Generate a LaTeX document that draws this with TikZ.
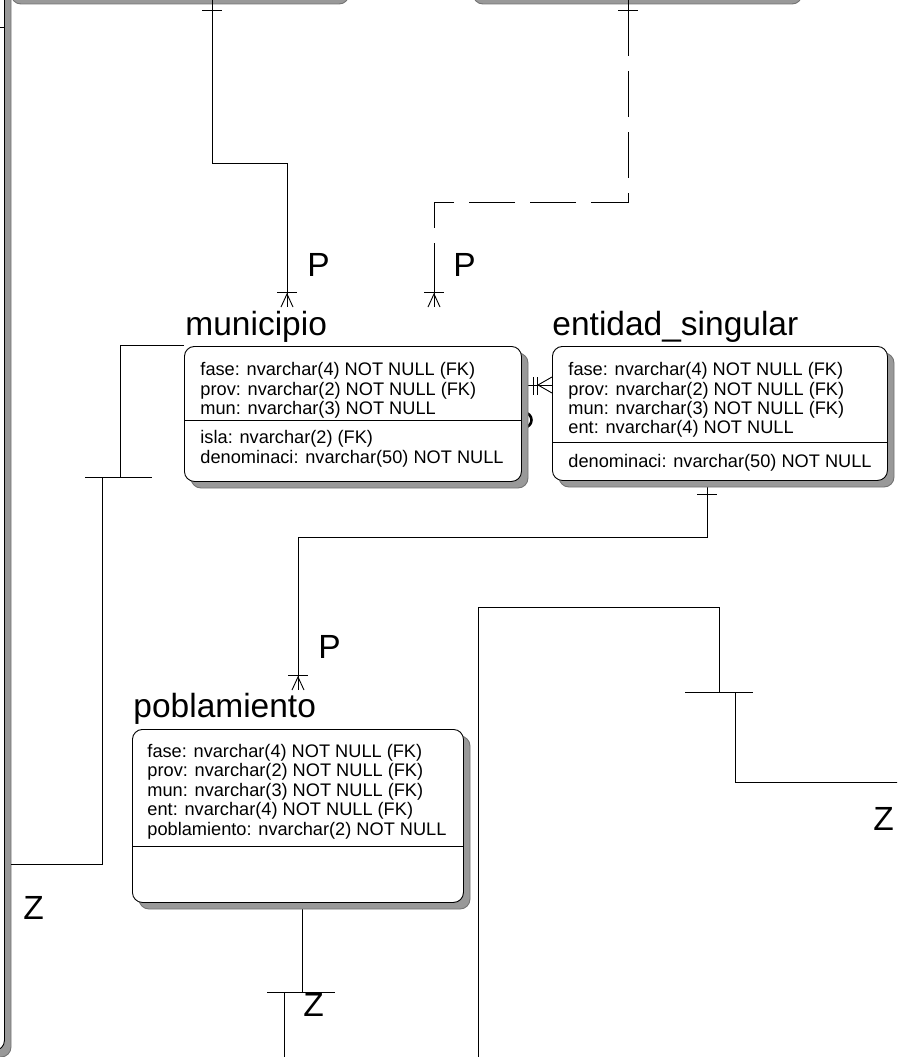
\documentclass[tikz,border=0pt]{standalone}
\usepackage{fontspec}
\setmainfont{Liberation Sans}
\newcommand\attrfont{\fontsize{18.2}{19.5}\selectfont}
\newcommand\titlefont{\fontsize{33.5}{36}\selectfont}
\tikzset{
  table/.style={draw, fill=white, rounded corners=10pt, inner sep=0pt, anchor=north west},
  tshadow/.style={fill=black!40, draw=black!55, rounded corners=10pt},
  attr/.style={font=\attrfont, anchor=base west, inner sep=0pt},
  title/.style={font=\titlefont, anchor=base west, inner sep=0pt},
  card/.style={font=\titlefont, anchor=base west, inner sep=0pt},
  rel/.style={line width=0.9pt},
}
\begin{document}
\begin{tikzpicture}[x=1pt, y=-1pt, line width=0.9pt]
  \useasboundingbox (0,0) rectangle (897,1057);
  \clip (0,0) rectangle (897,1057);
  \def\crow#1#2{\draw[rel] (#1-10,#2-15) -- (#1+10,#2-15);
    \draw[rel] (#1-6,#2) -- (#1,#2-13) -- (#1+6,#2);}
  \def\tick#1#2#3{\draw[rel] (#1,#3) -- (#2,#3);}

  % tables cut by the page edge
  \fill[tshadow] (-293,-193) rectangle (11,1057);
  \node[table, minimum width=304pt, minimum height=1250pt] (left) at (-300,-200) {};
  \draw (left.west |- 0,27) -- (left.east |- 0,27);
  \fill[tshadow] (11,-193) rectangle (349,4);
  \node[table, minimum width=338pt, minimum height=197pt] (topleft) at (4,-200) {};
  \fill[tshadow] (473,-193) rectangle (802,4);
  \node[table, minimum width=329pt, minimum height=197pt] (topright) at (466,-200) {};

  % relationships
  \coordinate (tlA) at (212,-3);
  \coordinate (munA) at (287,307);
  \draw[rel] (tlA) -- (212,163) -- (287,163) -- (munA);
  \tick{202}{222}{10}
  \crow{287}{307}

  \coordinate (trB) at (628,-3);
  \coordinate (munB) at (434,307);
  \draw[rel] (trB) -- (628,10);
  \draw[rel, dash pattern=on 46pt off 15pt] (628,10) -- (628,202) -- (434,202) -- (434,247);
  \draw[rel] (434,247) -- (munB);
  \tick{618}{638}{10}
  \crow{434}{307}

  \coordinate (munC) at (521,385);
  \coordinate (entC) at (552,385);
  \draw[rel] (munC) -- (entC);
  \draw[rel] (533,377) -- (533,395) (537,377) -- (537,395);
  \draw[rel] (552,377) -- (538,385) -- (552,393);
  \draw[line width=2.6pt] (524,420) circle (7.5);

  \coordinate (entD) at (707,487);
  \coordinate (pobD) at (298,690);
  \draw[rel] (entD) -- (707,537) -- (298,537) -- (pobD);
  \tick{697}{717}{494}
  \crow{298}{690}

  \coordinate (munE) at (184,345);
  \coordinate (leftE) at (11,864);
  \draw[rel] (munE) -- (120,345) -- (120,477);
  \tick{85}{152}{477}
  \draw[rel] (102,477) -- (102,864) -- (leftE);

  \coordinate (pobF) at (302,908);
  \draw[rel] (pobF) -- (302,992);
  \tick{267}{335}{992}
  \draw[rel] (284,992) -- (284,1060);

  \draw[rel] (478,1060) -- (478,607) -- (719,607) -- (719,692);
  \tick{685}{753}{692}
  \draw[rel] (735,692) -- (735,782) -- (900,782);

  % municipio
  \fill[tshadow] (191,353) rectangle (528,488);
  \node[table, minimum width=337pt, minimum height=135pt] (municipio) at (184,346) {};
  \draw (municipio.west |- 0,420) -- (municipio.east |- 0,420);
  \node[title] (municipio t) at (185,335) {municipio};
  \node[attr] (mun1) at (200,375) {fase: nvarchar(4) NOT NULL (FK)};
  \node[attr] (mun2) at (200,395) {prov: nvarchar(2) NOT NULL (FK)};
  \node[attr] (mun3) at (200,414) {mun: nvarchar(3) NOT NULL};
  \node[attr] (mun4) at (200,443) {isla: nvarchar(2) (FK)};
  \node[attr] (mun5) at (200,463) {denominaci: nvarchar(50) NOT NULL};

  % entidad_singular
  \fill[tshadow] (559,353) rectangle (894,487);
  \node[table, minimum width=335pt, minimum height=134pt] (entidad) at (552,346) {};
  \draw (entidad.west |- 0,442) -- (entidad.east |- 0,442);
  \node[title] (entidad t) at (552,335) {entidad\_singular};
  \node[attr] (ent1) at (568,375) {fase: nvarchar(4) NOT NULL (FK)};
  \node[attr] (ent2) at (568,395) {prov: nvarchar(2) NOT NULL (FK)};
  \node[attr] (ent3) at (568,414) {mun: nvarchar(3) NOT NULL (FK)};
  \node[attr] (ent4) at (568,433) {ent: nvarchar(4) NOT NULL};
  \node[attr] (ent5) at (568,467) {denominaci: nvarchar(50) NOT NULL};

  % poblamiento
  \fill[tshadow] (139,736) rectangle (470,909);
  \node[table, minimum width=331pt, minimum height=173pt] (poblamiento) at (132,729) {};
  \draw (poblamiento.west |- 0,846) -- (poblamiento.east |- 0,846);
  \node[title] (poblamiento t) at (133,717) {poblamiento};
  \node[attr] (pob1) at (147,757) {fase: nvarchar(4) NOT NULL (FK)};
  \node[attr] (pob2) at (147,776) {prov: nvarchar(2) NOT NULL (FK)};
  \node[attr] (pob3) at (147,796) {mun: nvarchar(3) NOT NULL (FK)};
  \node[attr] (pob4) at (147,815) {ent: nvarchar(4) NOT NULL (FK)};
  \node[attr] (pob5) at (147,835) {poblamiento: nvarchar(2) NOT NULL};

  % cardinalities
  \node[card] (pA) at (307,276) {P};
  \node[card] (pB) at (453,276) {P};
  \node[card] (pD) at (318,658) {P};
  \node[card] (zE) at (23,919) {Z};
  \node[card] (zF) at (303,1016) {Z};
  \node[card] (zG) at (873,830) {Z};
\end{tikzpicture}
\end{document}
